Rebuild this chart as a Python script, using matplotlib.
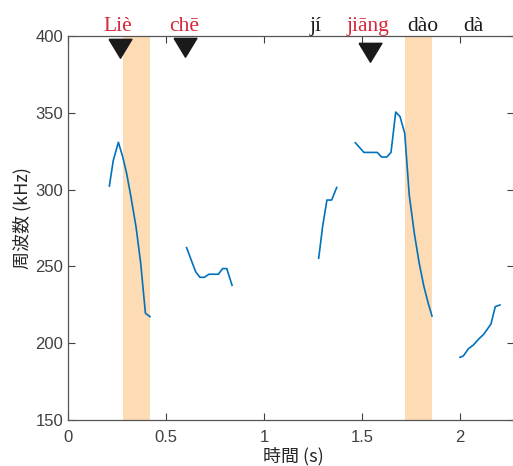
import matplotlib
matplotlib.use("Agg")
import matplotlib.pyplot as plt
import numpy as np

# ---- data ----
seg1_t = [0.211, 0.231, 0.257, 0.279, 0.299, 0.321, 0.347, 0.371, 0.395, 0.418]
seg1_f = [302.3, 319.0, 330.8, 321.4, 310.6, 295.4, 275.8, 252.0, 219.5, 217.3]

seg2_t = [0.605, 0.651, 0.673, 0.696, 0.719, 0.767, 0.789, 0.810, 0.837]
seg2_f = [262.2, 246.6, 242.9, 242.9, 244.9, 244.9, 248.6, 248.6, 237.7]

seg3_t = [1.279, 1.299, 1.321, 1.345, 1.371]
seg3_f = [255.3, 275.9, 293.2, 293.2, 301.4]

seg4_t = [1.466, 1.510, 1.578, 1.600, 1.626, 1.648, 1.672, 1.694, 1.718, 1.741,
          1.767, 1.792, 1.816, 1.838, 1.857]
seg4_f = [330.5, 324.2, 324.2, 321.2, 321.2, 324.2, 350.5, 347.5, 336.7, 296.5,
          271.5, 252.0, 236.8, 226.0, 217.7]

seg5_t = [2.000, 2.017, 2.043, 2.068, 2.097, 2.121, 2.158, 2.180, 2.204]
seg5_f = [190.8, 191.7, 196.4, 198.8, 202.9, 205.8, 212.5, 223.8, 224.9]

shade_spans = [(0.281, 0.418), (1.719, 1.857)]

marker_t = [0.265, 0.597, 1.541]
marker_f = [391.9, 392.8, 389.9]

syll_labels = ["Liè", "chē", "jí", "jiāng", "dào", "dà"]
syll_t = [0.253, 0.590, 1.264, 1.532, 1.808, 2.068]
syll_red = [True, True, False, True, False, False]

xticks = [0, 0.5, 1, 1.5, 2]
xtick_labels = ["0", "0.5", "1", "1.5", "2"]
yticks = [150, 200, 250, 300, 350, 400]

# ---- figure ----
W, H = 513, 466
fig = plt.figure(figsize=(W / 100, H / 100), dpi=100)
xmax = 2.275
left = 68 / W
bottom = (H - 420) / H
top = (H - 36) / H
right = (68 + xmax * 196) / W
ax = fig.add_axes([left, bottom, right - left, top - bottom])
ax.set_xlim(0, xmax)
ax.set_ylim(150, 400)

for a, b in shade_spans:
    ax.axvspan(a, b, color="#FDDBB4", lw=0, zorder=0)

line_color = "#0072BD"
for t, f in [(seg1_t, seg1_f), (seg2_t, seg2_f), (seg3_t, seg3_f),
             (seg4_t, seg4_f), (seg5_t, seg5_f)]:
    ax.plot(t, f, color=line_color, lw=1.2, zorder=2)

tri = [(-1, 0.8), (1, 0.8), (0, -0.85), (-1, 0.8)]
ax.plot(marker_t, marker_f, ls="none", marker=tri, ms=16.5,
        color="#1a1a1a", mec="#1a1a1a", clip_on=False, zorder=3)

for lab, t, red in zip(syll_labels, syll_t, syll_red):
    ax.text(t, 1.0 + 5 / 384, lab, transform=ax.get_xaxis_transform(),
            ha="center", va="baseline", fontsize=15.5,
            family=["Liberation Serif", "DejaVu Serif"],
            color="#D7263A" if red else "#1a1a1a", clip_on=False)

gray = "#404040"
ax.set_xticks(xticks)
ax.set_xticklabels(xtick_labels)
ax.set_yticks(yticks)
ax.tick_params(direction="in", length=5, width=0.8, colors=gray,
               labelsize=12, top=True, right=True)
ax.tick_params(axis="x", pad=7.5)
ax.tick_params(axis="y", pad=3.5)
for lbl in ax.get_xticklabels() + ax.get_yticklabels():
    lbl.set_fontfamily(["Liberation Sans", "DejaVu Sans"])
    lbl.set_color(gray)
for s in ax.spines.values():
    s.set_color("#555555")
    s.set_linewidth(0.9)

cjk = ["Noto Sans CJK JP", "DejaVu Sans"]
ax.set_xlabel("時間 (s)", fontsize=13, family=cjk, color="#262626")
ax.set_ylabel("周波数 (kHz)", fontsize=13, family=cjk, color="#262626")
axw = xmax * 196
ax.xaxis.set_label_coords((293.5 - 68) / axw, -(456 - 420) / 384)
ax.xaxis.label.set_va("center")
ax.yaxis.set_label_coords((22.5 - 68) / axw, (420 - 218) / 384)
ax.yaxis.label.set_va("center")

fig.savefig("out.png", dpi=100)
